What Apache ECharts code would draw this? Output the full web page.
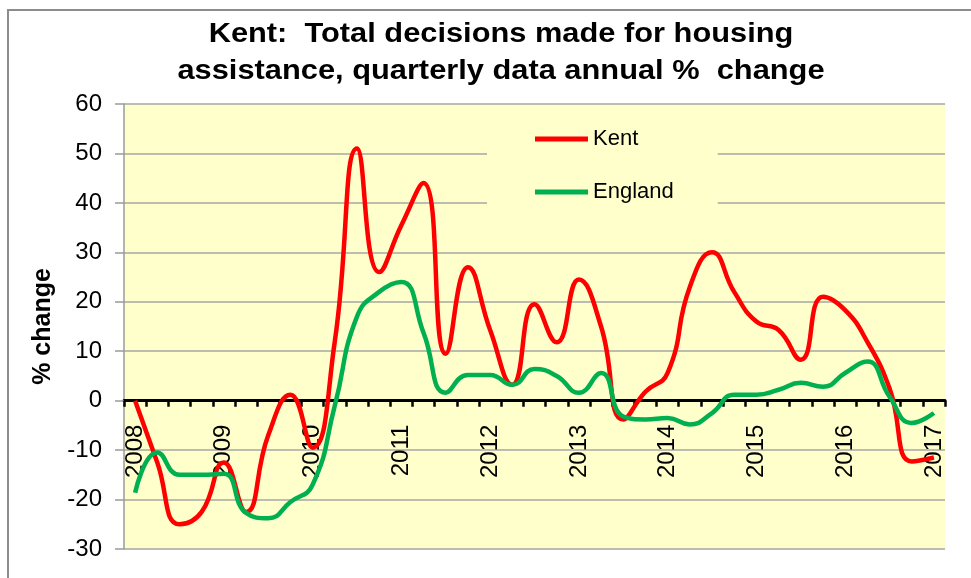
<!DOCTYPE html>
<html>
<head>
<meta charset="utf-8">
<script src="https://cdn.jsdelivr.net/npm/echarts@6/dist/echarts.min.js"></script>
<style>
html,body{margin:0;padding:0;background:#fff;}
#c{width:971px;height:578px;}
</style>
</head>
<body>
<div id="c"></div>
<script>
// Quarterly categories 2008 Q1 .. 2017 Q1
const quarters = [
 '2008 Q1','2008 Q2','2008 Q3','2008 Q4',
 '2009 Q1','2009 Q2','2009 Q3','2009 Q4',
 '2010 Q1','2010 Q2','2010 Q3','2010 Q4',
 '2011 Q1','2011 Q2','2011 Q3','2011 Q4',
 '2012 Q1','2012 Q2','2012 Q3','2012 Q4',
 '2013 Q1','2013 Q2','2013 Q3','2013 Q4',
 '2014 Q1','2014 Q2','2014 Q3','2014 Q4',
 '2015 Q1','2015 Q2','2015 Q3','2015 Q4',
 '2016 Q1','2016 Q2','2016 Q3','2016 Q4',
 '2017 Q1'
];
const kent = [
 0, -12.5, -25, -22.5,
 -12.5, -22.5, -7, 1.2,
 -9.5, 12, 51, 26,
 35.5, 44, 9.5, 27,
 14.3, 3.2, 19.5, 11.8,
 24.5, 15, -3.8, 1.8,
 5.6, 23, 30, 22,
 16, 14.3, 8.3, 21,
 18.3, 11.9, 2.5, -12.3,
 -11.5
];
const england = [
 -18.6, -10.5, -15, -15,
 -14.8, -22.7, -23.8, -20.5,
 -17, -1, 17, 22,
 24, 13.7, 1.6, 5.2,
 5.2, 3.2, 6.4, 5,
 1.6, 5.6, -3.2, -3.8,
 -3.5, -4.8, -2.5, 1.2,
 1.2, 2.2, 3.6, 2.8,
 5.6, 7.9, 0.8, -4.5,
 -2.5
];
const seriesNames = ['Kent', 'England'];
const yTicks = { min: -30, max: 60, step: 10 };
const titleLines = ['Kent:  Total decisions made for housing', 'assistance, quarterly data annual %  change'];
const yAxisTitle = '% change';

const FONT = "'Liberation Sans', Arial, sans-serif";
const GRID = { left: 124, right: 26, top: 104, bottom: 29 };
const plotH = 578 - GRID.top - GRID.bottom;
// shift the category axis from the bottom of the plot to the zero line
const zeroOffset = -plotH * (0 - yTicks.min) / (yTicks.max - yTicks.min);

const chart = echarts.init(document.getElementById('c'), null, { renderer: 'canvas' });
chart.setOption({
  backgroundColor: '#ffffff',
  animation: false,
  graphic: [
    { type: 'rect', shape: { x: 8, y: 10, width: 1000, height: 600 },
      style: { fill: 'none', stroke: '#8c8c8c', lineWidth: 2 }, z: 100 },
    { type: 'text', x: 501, y: 34, scaleX: 1.1,
      style: { text: titleLines[0], textAlign: 'center', textVerticalAlign: 'middle',
               font: "bold 28px " + FONT, fill: '#000' } },
    { type: 'text', x: 501, y: 71, scaleX: 1.1,
      style: { text: titleLines[1], textAlign: 'center', textVerticalAlign: 'middle',
               font: "bold 28px " + FONT, fill: '#000' } }
  ],
  grid: { left: GRID.left, right: GRID.right, top: GRID.top, bottom: GRID.bottom, show: true,
          backgroundColor: '#FFFFCC', borderWidth: 0, containLabel: false },
  legend: {
    data: seriesNames, orient: 'vertical', left: 487, top: 115,
    icon: 'rect', itemWidth: 53, itemHeight: 5, itemGap: 31,
    padding: [13, 44, 24, 48], backgroundColor: '#FFFFCC',
    textStyle: { fontSize: 22, color: '#000', fontFamily: FONT },
    z: 10
  },
  xAxis: {
    type: 'category', data: quarters, boundaryGap: true,
    position: 'bottom', offset: zeroOffset,
    axisLine: { onZero: false, lineStyle: { color: '#000', width: 3 } },
    axisTick: { show: true, interval: 0, length: 6, lineStyle: { color: '#000', width: 2.5 } },
    axisLabel: { interval: 0, rotate: 90, margin: 24, fontSize: 24, color: '#000', fontFamily: FONT,
      formatter: v => v.endsWith('Q1') ? v.slice(0, 4) : '' },
    splitLine: { show: false }
  },
  yAxis: {
    type: 'value', min: yTicks.min, max: yTicks.max, interval: yTicks.step,
    name: yAxisTitle, nameLocation: 'middle', nameGap: 68, nameRotate: 90,
    nameTextStyle: { fontSize: 25, fontWeight: 'bold', color: '#000', fontFamily: FONT },
    axisLine: { show: true, lineStyle: { color: '#9a9a9a', width: 1.5 } },
    axisTick: { show: true, length: 9, lineStyle: { color: '#9a9a9a', width: 1.5 } },
    axisLabel: { fontSize: 24, color: '#000', margin: 22, fontFamily: FONT },
    splitLine: { show: true, lineStyle: { color: '#a6a6a6', width: 1.5 } }
  },
  series: [
    { name: seriesNames[0], type: 'line', data: kent, smooth: 0.5, symbol: 'none',
      color: '#FF0000', lineStyle: { color: '#FF0000', width: 4.5 } },
    { name: seriesNames[1], type: 'line', data: england, smooth: 0.5, symbol: 'none',
      color: '#00B050', lineStyle: { color: '#00B050', width: 4.5 } }
  ]
});
</script>
</body>
</html>
